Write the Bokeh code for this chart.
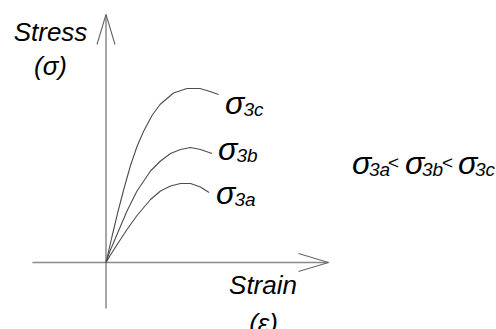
from bokeh.plotting import figure
from bokeh.models import Range1d
from bokeh.core.properties import value
from bokeh.embed import file_html
from bokeh.resources import INLINE

# ---- data (strain, stress) ----
strain_a = [0, 0.04, 0.11, 0.21, 0.31, 0.445, 0.545, 0.645, 0.745, 0.845, 0.945, 1.03]
stress_a = [0, 0.068, 0.178, 0.33, 0.47, 0.63, 0.715, 0.765, 0.79, 0.79, 0.755, 0.70]

strain_b = [0, 0.04, 0.11, 0.21, 0.31, 0.445, 0.545, 0.645, 0.745, 0.845, 0.945, 1.06]
stress_b = [0, 0.115, 0.28, 0.515, 0.715, 0.915, 1.015, 1.09, 1.13, 1.15, 1.13, 1.09]

strain_c = [0, 0.06, 0.12, 0.18, 0.245, 0.31, 0.375, 0.46, 0.54, 0.675, 0.81, 0.94, 1.04, 1.125]
stress_c = [0, 0.26, 0.51, 0.74, 0.97, 1.16, 1.31, 1.47, 1.58, 1.695, 1.74, 1.74, 1.71, 1.68]

curve_names = ["3a", "3b", "3c"]

# axis extents
x_axis_min, x_axis_max = -0.735, 2.225
y_axis_min, y_axis_max = -0.46, 2.48

FONT = value("Liberation Sans")
CURVE_COLOR = "#4d4d4d"
AXIS_COLOR = "#8a8a8a"

p = figure(width=496, height=329, output_backend="svg", toolbar_location=None,
           x_range=Range1d(-1.055, 3.905), y_range=Range1d(-0.67, 2.62),
           min_border=0, outline_line_color=None)
p.axis.visible = False
p.grid.visible = False
p.background_fill_color = "white"
p.border_fill_color = "white"

# axes
p.line([x_axis_min, x_axis_max], [0, 0], line_color=AXIS_COLOR, line_width=1.5)
p.line([0, 0], [y_axis_min, y_axis_max], line_color=AXIS_COLOR, line_width=1.5)
# open arrow heads
head_len, head_half = 0.30, 0.09
p.multi_line(
    xs=[[-head_half, 0, head_half],
        [x_axis_max - head_len, x_axis_max, x_axis_max - head_len]],
    ys=[[y_axis_max - head_len, y_axis_max, y_axis_max - head_len],
        [head_half, 0, -head_half]],
    line_color="#666666", line_width=1.1)

# curves
for xs, ys in [(strain_a, stress_a), (strain_b, stress_b), (strain_c, stress_c)]:
    p.line(xs, ys, line_color=CURVE_COLOR, line_width=1.1)

LIFT = 0.10  # svg text baseline correction

def txt(x, y, s, size, align="left", style="italic", color="black"):
    p.text(x=[x], y=[y + LIFT], text=[s], text_font=FONT, text_font_size=size,
           text_font_style=style, text_align=align, text_baseline="alphabetic",
           text_color=color)

# axis titles
txt(-0.555, 2.21, "Stress", "26px", align="center")
txt(-0.555, 1.87, "(σ)", "26px", align="center")
txt(1.57, -0.32, "Strain", "26px", align="center")
txt(1.575, -0.70, "(ε)", "26px", align="center")

# curve labels: sigma + subscript
SIG = "32px"
SUB = "19px"
label_pos = {"3a": (1.10, 0.60), "3b": (1.12, 1.04), "3c": (1.19, 1.50)}
for name in curve_names:
    lx, ly = label_pos[name]
    txt(lx, ly, "σ", SIG)
    txt(lx + 0.185, ly - 0.065, name, SUB)

# inequality
ix, iy = 2.46, 0.90
parts = [(0.0, "σ", SIG, 0.0), (0.17, "3a", SUB, -0.065), (0.36, "<", SUB, 0.0),
         (0.53, "σ", SIG, 0.0), (0.70, "3b", SUB, -0.065), (0.90, "<", SUB, 0.0),
         (1.06, "σ", SIG, 0.0), (1.23, "3c", SUB, -0.065)]
for dx, s, size, dy in parts:
    txt(ix + dx, iy + dy, s, size, style="italic" if s != "<" else "normal")

open("out.html", "w").write(file_html(p, INLINE))
